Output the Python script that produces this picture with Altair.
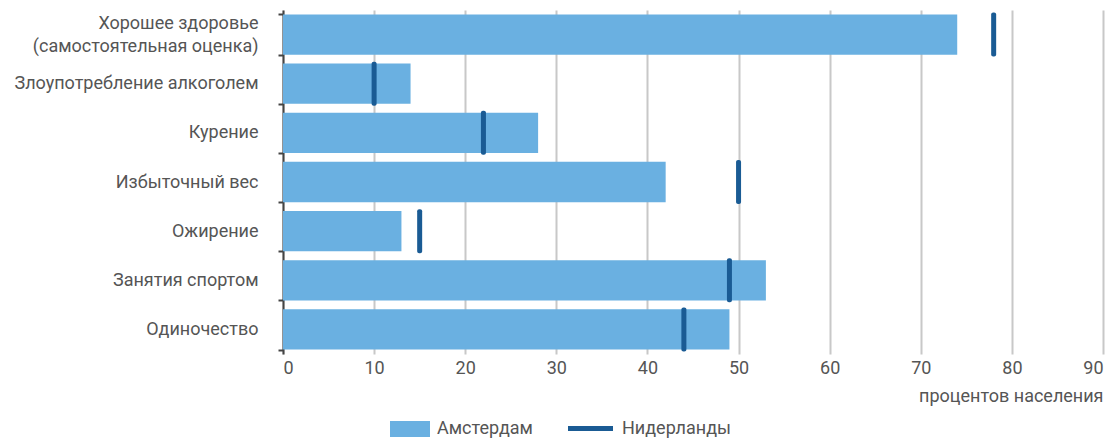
import altair as alt
import pandas as pd

categories = [
    "Хорошее здоровье|(самостоятельная оценка)",
    "Злоупотребление алкоголем",
    "Курение",
    "Избыточный вес",
    "Ожирение",
    "Занятия спортом",
    "Одиночество",
]
amsterdam = [74, 14, 28, 42, 13, 53, 49]
netherlands = [78, 10, 22, 50, 15, 49, 44]
x_ticks = [0, 10, 20, 30, 40, 50, 60, 70, 80, 90]

df = pd.DataFrame({
    "cat": categories,
    "ams": amsterdam,
    "nl": netherlands,
    "s1": ["Амстердам"] * len(categories),
    "s2": ["Нидерланды"] * len(categories),
})

FONT = "Roboto"
FS = 18
TXT = "#555555"
BAR = "#6ab0e1"
DARK = "#1a5b94"

y_enc = alt.Y(
    "cat:N", sort=categories, title=None,
    scale=alt.Scale(paddingInner=0.18, paddingOuter=0.09),
    axis=alt.Axis(
        labelExpr="split(datum.label, '|')", labelLineHeight=23,
        labelFontSize=FS, labelColor=TXT, labelFont=FONT, labelPadding=20,
        labelLimit=400,
        labelBaseline={"condition": {"test": "indexof(datum.label, '|') >= 0", "value": "line-bottom"}, "value": "middle"},
        tickBand="extent", tickSize=5, tickColor="#444444", tickWidth=2,
        domainColor="#444444", domainWidth=2, grid=False,
    ),
)

x_scale = alt.Scale(domain=[0, 90], nice=False)
x_axis = alt.Axis(
    values=x_ticks, title="процентов населения", titleAnchor="end",
    titleFont=FONT, titleFontSize=FS, titleFontWeight="normal", titleColor=TXT,
    titlePadding=10,
    labelFont=FONT, labelFontSize=FS, labelColor=TXT, labelPadding=5,
    tickSize=0, domain=False, grid=True, gridColor="#c8c8c8", gridWidth=2,
)

bars = alt.Chart(df).mark_bar().encode(
    y=y_enc,
    x=alt.X("ams:Q", scale=x_scale, axis=x_axis),
    color=alt.Color(
        "s1:N", scale=alt.Scale(domain=["Амстердам"], range=[BAR]),
        legend=alt.Legend(
            title=None, orient="none", legendX=107, legendY=399,
            symbolType="M-1,-0.4H1V0.4H-1Z", symbolSize=1600,
            symbolStrokeWidth=0, symbolOpacity=1,
            labelFont=FONT, labelFontSize=FS, labelColor=TXT, labelOffset=7,
            padding=0,
        ),
    ),
)

ticks = alt.Chart(df).mark_tick(thickness=5, size=44, cornerRadius=2, opacity=1).encode(
    y=alt.Y("cat:N", sort=categories),
    x=alt.X("nl:Q", scale=x_scale),
    fill=alt.Fill(
        "s2:N", scale=alt.Scale(domain=["Нидерланды"], range=[DARK]),
        legend=alt.Legend(
            title=None, orient="none", legendX=285, legendY=396,
            symbolType="M-1,-0.11H1V0.11H-1Z", symbolSize=2025,
            symbolStrokeWidth=0, symbolOpacity=1,
            labelFont=FONT, labelFontSize=FS, labelColor=TXT, labelOffset=9,
            padding=0,
        ),
    ),
)

chart = alt.layer(bars, ticks).properties(
    width=820, height=344,
    autosize=alt.AutoSizeParams(type="none"),
    padding={"left": 275, "top": 2, "right": 4, "bottom": 90},
).configure_view(stroke=None)

chart.save("out.html", embed_options={"renderer": "svg", "actions": False})
